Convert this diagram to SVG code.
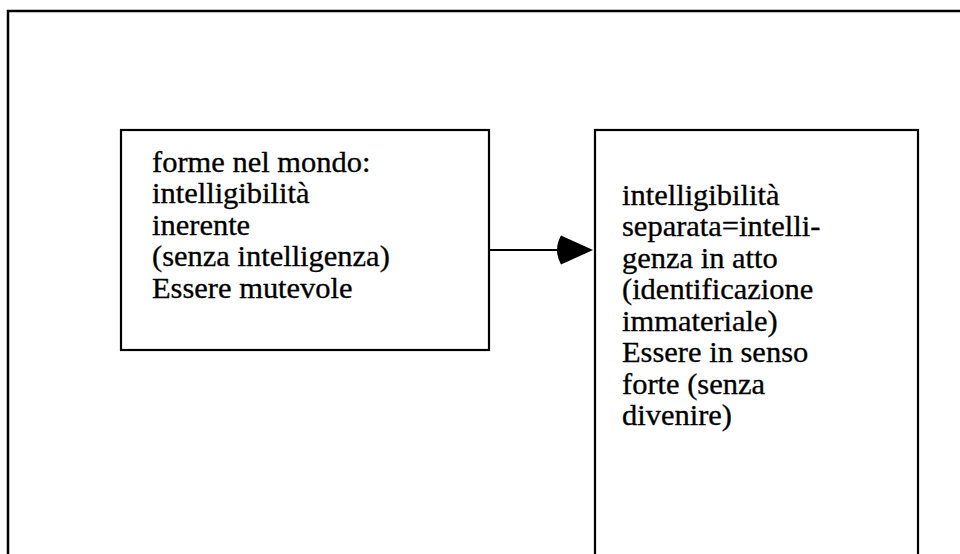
<svg xmlns="http://www.w3.org/2000/svg" width="960" height="554" viewBox="0 0 960 554">
<style>
.frame{fill:none;stroke:#000;stroke-width:2.5}
.box{fill:#fff;stroke:#000;stroke-width:2.2}
.t{font-family:"Liberation Serif","Times New Roman",serif;font-size:28.5px;fill:#000;stroke:#000;stroke-width:0.3}
.conn{stroke:#000;stroke-width:2;fill:none}
</style>
<rect class="frame" x="8" y="11" width="970" height="570"/>
<g id="node-left">
<rect class="box" x="121" y="130" width="368" height="220"/>
<g transform="translate(152,0) scale(1.07,1)">
<text class="t" x="0" y="172">forme nel mondo:</text>
<text class="t" x="0" y="203.5">intelligibilità</text>
<text class="t" x="0" y="235">inerente</text>
<text class="t" x="0" y="266.5">(senza intelligenza)</text>
<text class="t" x="0" y="298">Essere mutevole</text>
</g>
</g>
<g id="node-right">
<rect class="box" x="595" y="130" width="323" height="440"/>
<g transform="translate(622,0) scale(1.07,1)">
<text class="t" x="0" y="205">intelligibilità</text>
<text class="t" x="0" y="236.5">separata=intelli-</text>
<text class="t" x="0" y="268">genza in atto</text>
<text class="t" x="0" y="299.5">(identificazione</text>
<text class="t" x="0" y="331">immateriale)</text>
<text class="t" x="0" y="362.5">Essere in senso</text>
<text class="t" x="0" y="394">forte (senza</text>
<text class="t" x="0" y="425.5">divenire)</text>
</g>
</g>
<g id="connectors">
<line class="conn" x1="490" y1="250" x2="562" y2="250"/>
<path d="M593,250 L561,235.5 Q553,250 561,264.5 Z" fill="#000"/>
</g>
</svg>
